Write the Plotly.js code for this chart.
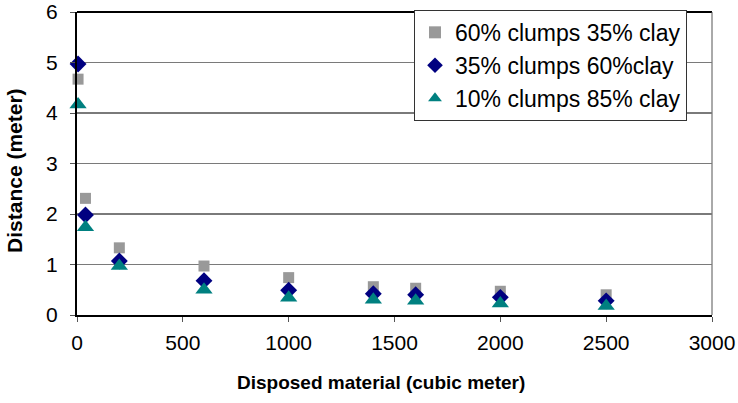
<!DOCTYPE html>
<html>
<head>
<meta charset="utf-8">
<script src="https://cdn.plot.ly/plotly-3.0.1.min.js"></script>
<style>
html,body{margin:0;padding:0;background:#fff;}
#chart{width:738px;height:403px;}
</style>
</head>
<body>
<div id="chart"></div>
<script>
// Data
var disposed = [5, 40, 200, 600, 1000, 1400, 1600, 2000, 2500];
var clumps60 = [4.67, 2.31, 1.33, 0.97, 0.74, 0.56, 0.53, 0.47, 0.40];
var clumps35 = [4.97, 1.98, 1.07, 0.68, 0.49, 0.42, 0.40, 0.35, 0.28];
var clumps10 = [4.17, 1.74, 0.97, 0.50, 0.34, 0.30, 0.28, 0.23, 0.18];
var seriesNames = ["60% clumps 35% clay", "35% clumps 60%clay", "10% clumps 85% clay"];
var xTicks = [0, 500, 1000, 1500, 2000, 2500, 3000];
var yTicks = [0, 1, 2, 3, 4, 5, 6];
var xTitle = "Disposed material (cubic meter)";
var yTitle = "Distance (meter)";

var font = "Liberation Sans, Arial, sans-serif";

var traces = [
  {x: disposed, y: clumps60, name: seriesNames[0], type: "scatter", mode: "markers", cliponaxis: false,
   marker: {symbol: "square", size: 11, color: "#999999"}},
  {x: disposed, y: clumps35, name: seriesNames[1], type: "scatter", mode: "markers", cliponaxis: false,
   marker: {symbol: "diamond", size: 13, color: "#000080"}},
  {x: disposed, y: clumps10, name: seriesNames[2], type: "scatter", mode: "markers", cliponaxis: false,
   marker: {symbol: "triangle-up", size: 15, color: "#008080"}}
];

var layout = {
  width: 738, height: 403,
  margin: {l: 77, r: 26, t: 10, b: 88, pad: 0},
  paper_bgcolor: "#ffffff",
  plot_bgcolor: "#ffffff",
  font: {family: font, size: 21, color: "#000000"},
  showlegend: true,
  legend: {
    x: (414 - 77) / 635, y: 1.007, xanchor: "left", yanchor: "top",
    bgcolor: "#ffffff", bordercolor: "#333333", borderwidth: 1,
    font: {family: font, size: 23, color: "#000000"},
    itemsizing: "constant",
    traceorder: "normal"
  },
  xaxis: {
    range: [0, 3000], tickmode: "array", tickvals: xTicks,
    showgrid: false, zeroline: false,
    showline: true, linecolor: "#000000", linewidth: 2,
    ticks: "outside", ticklen: 5, tickcolor: "#555555", tickwidth: 1,
    ticklabelstandoff: 3,
    tickfont: {family: font, size: 21},
    fixedrange: true
  },
  yaxis: {
    range: [0, 6], tickmode: "array", tickvals: yTicks,
    showgrid: true, gridcolor: "#7a7a7a", gridwidth: 1.5,
    zeroline: false,
    showline: true, linecolor: "#000000", linewidth: 2,
    ticks: "outside", ticklen: 5, tickcolor: "#555555", tickwidth: 1,
    ticklabelstandoff: 8,
    tickfont: {family: font, size: 21},
    fixedrange: true
  },
  annotations: [
    {text: "<b>" + xTitle + "</b>", xref: "paper", yref: "paper",
     x: (381 - 77) / 635, y: -(383 - 315) / 305, xanchor: "center", yanchor: "middle",
     showarrow: false, font: {family: font, size: 19, color: "#000000"}},
    {text: "<b>" + yTitle + "</b>", xref: "paper", yref: "paper", textangle: -90,
     x: -(77 - 15) / 635, y: (315 - 170) / 305, xanchor: "center", yanchor: "middle",
     showarrow: false, font: {family: font, size: 21, color: "#000000"}}
  ],
  shapes: [
    {type: "line", xref: "paper", yref: "paper", x0: 0, x1: 1, y0: 1, y1: 1,
     line: {color: "#000000", width: 2}, layer: "below"},
    {type: "line", xref: "paper", yref: "paper", x0: 1, x1: 1, y0: 0, y1: 1,
     line: {color: "#555555", width: 1}, layer: "below"}
  ]
};

Plotly.newPlot("chart", traces, layout, {displayModeBar: false, staticPlot: true});
</script>
</body>
</html>
